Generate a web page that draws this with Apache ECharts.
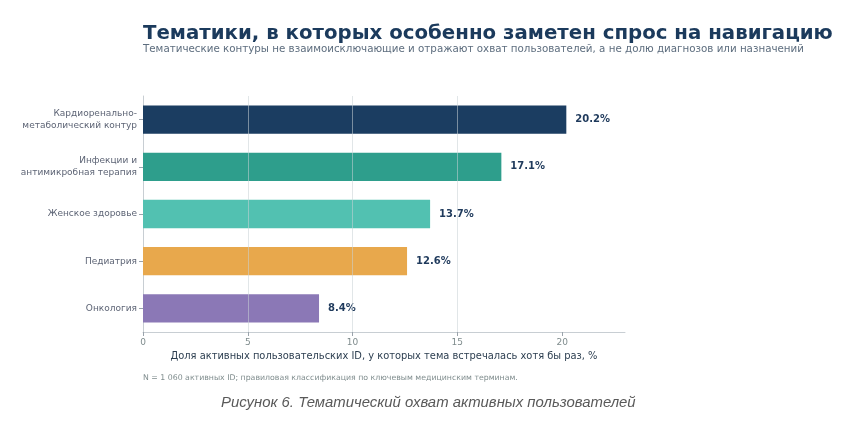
<!DOCTYPE html>
<html>
<head>
<meta charset="utf-8">
<script src="https://cdn.jsdelivr.net/npm/echarts@6/dist/echarts.min.js"></script>
<style>
html, body { margin: 0; padding: 0; background: #fff; }
#chart { width: 845px; height: 421px; }
</style>
</head>
<body>
<div id="chart"></div>
<script>
// категории сверху вниз
var categories = [
    "Кардиоренально-\nметаболический контур",
    "Инфекции и\nантимикробная терапия",
    "Женское здоровье",
    "Педиатрия",
    "Онкология"
];
var values = [20.2, 17.1, 13.7, 12.6, 8.4];
var barColors = ["#1b3d61", "#2e9e8c", "#52c1b1", "#e8a84c", "#8b78b6"];
var xTicks = [0, 5, 10, 15, 20];

var chart = echarts.init(document.getElementById("chart"));

var option = {
    backgroundColor: "#fff",
    textStyle: { fontFamily: "DejaVu Sans" },
    title: [
        {
            text: "Тематики, в которых особенно заметен спрос на навигацию",
            left: 143,
            top: 24,
            padding: 0,
            textStyle: { fontSize: 19.75, fontWeight: "bold", color: "#1b3a5c", fontFamily: "DejaVu Sans" }
        },
        {
            text: "Тематические контуры не взаимоисключающие и отражают охват пользователей, а не долю диагнозов или назначений",
            left: 143,
            top: 44,
            padding: 0,
            textStyle: { fontSize: 10.3, fontWeight: "normal", color: "#5d6d7e", fontFamily: "DejaVu Sans" }
        },
        {
            text: "N = 1 060 активных ID; правиловая классификация по ключевым медицинским терминам.",
            left: 143,
            top: 374,
            padding: 0,
            textStyle: { fontSize: 7.8, fontWeight: "normal", color: "#7f8c8d", fontFamily: "DejaVu Sans" }
        },
        {
            text: "Рисунок 6. Тематический охват активных пользователей",
            left: 221,
            top: 395,
            padding: 0,
            textStyle: { fontSize: 14.9, fontWeight: "normal", fontStyle: "italic", color: "#595959", fontFamily: "Liberation Sans" }
        }
    ],
    grid: { left: 143, top: 96, width: 482, height: 236, containLabel: false },
    xAxis: {
        type: "value",
        min: 0,
        max: 23,
        interval: 5,
        z: 3,
        name: "Доля активных пользовательских ID, у которых тема встречалась хотя бы раз, %",
        nameLocation: "middle",
        nameGap: 19,
        nameTextStyle: { fontSize: 9.9, color: "#2c3e50" },
        axisLine: { show: true, lineStyle: { color: "#c8ced3", width: 1 } },
        axisTick: { show: true, length: 4, customValues: xTicks, lineStyle: { color: "#9aa3ab" } },
        axisLabel: {
            fontSize: 9, color: "#7f8c8d", margin: 6,
            customValues: xTicks
        },
        splitLine: { show: true, showMinLine: false, showMaxLine: false, lineStyle: { color: "rgba(200,210,214,0.55)", width: 1 } }
    },
    yAxis: {
        type: "category",
        data: categories,
        inverse: true,
        axisLine: { show: true, lineStyle: { color: "#c8ced3", width: 1 } },
        axisTick: { show: true, alignWithLabel: true, length: 4, lineStyle: { color: "#9aa3ab" } },
        axisLabel: { fontSize: 9, color: "#5d6475", margin: 6, lineHeight: 12, align: "right" },
        splitLine: { show: false }
    },
    series: [
        {
            type: "bar",
            data: values.map(function (v, i) {
                return { value: v, itemStyle: { color: barColors[i] } };
            }),
            barWidth: "60%",
            label: {
                show: true,
                position: "right",
                distance: 9,
                fontSize: 10,
                fontWeight: "bold",
                color: "#1f3a5c",
                formatter: function (p) { return p.value.toFixed(1) + "%"; }
            }
        }
    ]
};

chart.setOption(option);
</script>
</body>
</html>
